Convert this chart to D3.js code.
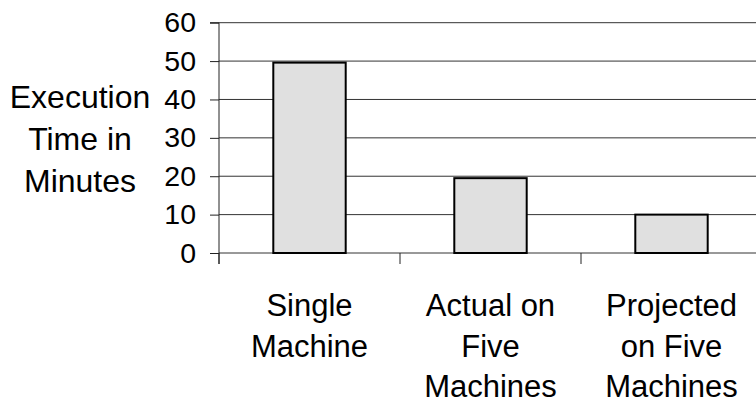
<!DOCTYPE html>
<html>
<head>
<meta charset="utf-8">
<script src="https://cdn.jsdelivr.net/npm/d3@7"></script>
<style>
  html, body { margin: 0; padding: 0; background: #fff; }
  svg { display: block; font-family: "Liberation Sans", Arial, sans-serif; }
</style>
</head>
<body>
<svg id="chart" width="756" height="407"></svg>
<script>
// Execution time of the job in different configurations
const categories = [
  ["Single", "Machine"],
  ["Actual on", "Five", "Machines"],
  ["Projected", "on Five", "Machines"]
];
const minutes = [49.6, 19.5, 10];
const yTicks = [0, 10, 20, 30, 40, 50, 60];
const yTitle = ["Execution", "Time in", "Minutes"];

const svg = d3.select("#chart");
const plotLeft = 219, plotRight = 762, plotTop = 22.7, plotBottom = 253;

const x = d3.scaleBand().domain(d3.range(categories.length)).range([plotLeft, plotRight]).padding(0);
const y = d3.scaleLinear().domain([0, 60]).range([plotBottom, plotTop]);

// horizontal gridlines
svg.append("g").selectAll("line").data(yTicks).join("line")
  .attr("x1", plotLeft).attr("x2", plotRight)
  .attr("y1", d => y(d)).attr("y2", d => y(d))
  .attr("stroke", "#333").attr("stroke-width", 1);

// bars
const barW = x.bandwidth() * 0.4;
svg.append("g").selectAll("rect").data(minutes).join("rect")
  .attr("x", (d, i) => x(i) + (x.bandwidth() - barW) / 2)
  .attr("y", d => y(d))
  .attr("width", barW)
  .attr("height", d => y(0) - y(d))
  .attr("fill", "#e0e0e0")
  .attr("stroke", "#000")
  .attr("stroke-width", 2);

// y axis
const yAxis = d3.axisLeft(y).tickValues(yTicks).tickSize(9).tickPadding(14);
const gy = svg.append("g").attr("transform", `translate(${plotLeft},0)`).call(yAxis);
gy.select(".domain").attr("stroke", "#222").attr("d", `M-9,${y(60)}H0V${plotBottom + 11}`);
gy.selectAll(".tick line").attr("stroke", "#222");
gy.selectAll(".tick text")
  .attr("font-size", 28.5).attr("fill", "#000")
  .attr("font-family", "'Liberation Sans', Arial, sans-serif");

// x axis: ticks at category boundaries
const bounds = d3.range(categories.length + 1).map(i => plotLeft + i * x.bandwidth());
svg.append("g").selectAll("line").data(bounds).join("line")
  .attr("x1", d => d).attr("x2", d => d)
  .attr("y1", plotBottom).attr("y2", plotBottom + 11)
  .attr("stroke", "#222");

// category labels
const catG = svg.append("g").selectAll("text").data(categories).join("text")
  .attr("x", (d, i) => x(i) + x.bandwidth() / 2)
  .attr("y", 316)
  .attr("text-anchor", "middle")
  .attr("font-size", 31)
  .attr("fill", "#000");
catG.selectAll("tspan").data(d => d).join("tspan")
  .attr("x", function () { return d3.select(this.parentNode).attr("x"); })
  .attr("dy", (d, i) => i === 0 ? 0 : 40.5)
  .text(d => d);

// y axis title
svg.append("text")
  .attr("x", 80).attr("y", 108)
  .attr("text-anchor", "middle")
  .attr("font-size", 32)
  .attr("fill", "#000")
  .selectAll("tspan").data(yTitle).join("tspan")
  .attr("x", 80)
  .attr("dy", (d, i) => i === 0 ? 0 : 42)
  .text(d => d);
</script>
</body>
</html>
